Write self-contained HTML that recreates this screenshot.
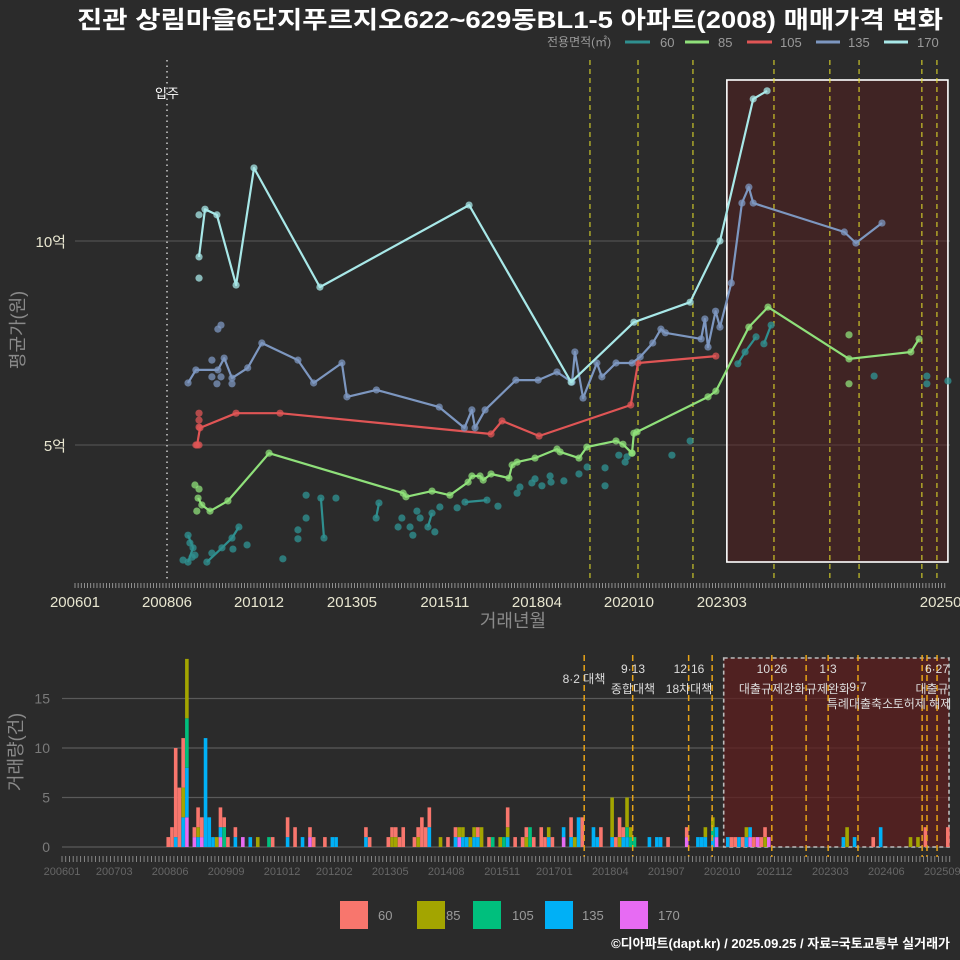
<!DOCTYPE html>
<html><head><meta charset="utf-8">
<style>
html,body{margin:0;padding:0;background:#2b2b2b;}
svg{display:block;font-family:"Liberation Sans","Noto Sans CJK KR",sans-serif;}
</style></head>
<body>
<svg id="chart" width="960" height="960" viewBox="0 0 960 960" xmlns="http://www.w3.org/2000/svg">
<rect x="0" y="0" width="960" height="960" fill="#2b2b2b"/>
<text x="510" y="28" text-anchor="middle" fill="#ffffff" font-size="24" font-weight="bold" textLength="866" lengthAdjust="spacingAndGlyphs">진관 상림마을6단지푸르지오622~629동BL1-5 아파트(2008) 매매가격 변화</text>
<g font-size="13" fill="#9a9a9a">
<text x="547" y="46" font-size="12">전용면적(㎡)</text>
<line x1="625" y1="42" x2="650" y2="42" stroke="#2f8f8f" stroke-width="3"/>
<text x="660" y="47">60</text>
<line x1="685" y1="42" x2="709" y2="42" stroke="#8fe07a" stroke-width="3"/>
<text x="718" y="47">85</text>
<line x1="747" y1="42" x2="772" y2="42" stroke="#e05555" stroke-width="3"/>
<text x="780" y="47">105</text>
<line x1="816" y1="42" x2="840" y2="42" stroke="#7d97c0" stroke-width="3"/>
<text x="848" y="47">135</text>
<line x1="884" y1="42" x2="908" y2="42" stroke="#a8e8e8" stroke-width="3"/>
<text x="917" y="47">170</text>
</g>
<g id="topg"></g>
<g id="botg"></g>
<g font-size="13" fill="#9a9a9a">
<rect x="340" y="901" width="28" height="28" fill="#f8766d"/><text x="378" y="920">60</text>
<rect x="417" y="901" width="28" height="28" fill="#a3a500"/><text x="446" y="920">85</text>
<rect x="473" y="901" width="28" height="28" fill="#00bf7d"/><text x="512" y="920">105</text>
<rect x="545" y="901" width="28" height="28" fill="#00b0f6"/><text x="582" y="920">135</text>
<rect x="620" y="901" width="28" height="28" fill="#e76bf3"/><text x="658" y="920">170</text>
</g>
<text x="950" y="948" text-anchor="end" fill="#ffffff" font-size="13" font-weight="bold">©디아파트(dapt.kr) / 2025.09.25 / 자료=국토교통부 실거래가</text>
</svg>
<script>
// ---------- top chart data (x: months since 2006-01, y: price in 억) ----------
const line170 = [[39.5,9.61],[41.4,10.78],[45.2,10.64],[51.3,8.92],[57,11.79],[78,8.87],[125.5,10.88],[158,6.54],[178,8.01],[195.9,8.5],[205.4,10.0],[216,13.48],[220.4,13.68]];
const dots170 = [[39.5,10.64],[39.5,9.09]];
const line135 = [[36,6.52],[38.5,6.84],[45.5,6.84],[47.5,7.13],[50,6.64],[55,6.89],[59.5,7.5],[71,7.08],[76,6.52],[85,7.01],[86.6,6.18],[96,6.35],[116,5.93],[124,5.42],[126.4,5.86],[127.4,5.42],[130.6,5.86],[140.4,6.59],[147.5,6.59],[153.5,6.79],[158.3,6.54],[159.2,7.28],[161.8,6.15],[166.2,7.01],[167.8,6.67],[172.3,7.01],[177.4,7.01],[180,7.16],[184,7.5],[186.6,7.84],[188,7.75],[199.4,7.6],[200.6,8.09],[201.6,7.4],[204,8.28],[205.4,7.89],[209,8.97],[212.4,10.93],[214.6,11.32],[216,10.93],[245,10.22],[248.7,9.95],[257,10.44]];
const dots135 = [[45.5,7.84],[46.5,7.94],[43.6,7.08],[43.6,6.67],[45.2,6.5],[50,6.5],[46.5,6.67]];
const line105 = [[38.9,5.0],[39.8,5.42],[51.3,5.78],[65.3,5.78],[132.5,5.27],[136,5.59],[147.8,5.22],[177,5.98],[179.3,7.01],[204.1,7.18]];
const dots105 = [[39.5,5.78],[39.5,5.61],[39.5,5.44],[38.5,5.0],[39.5,5.0]];
const line85 = [[39.2,3.7],[40.4,3.53],[43,3.38],[48.7,3.63],[61.8,4.8],[104.5,3.82],[105.4,3.73],[113.7,3.87],[119.4,3.77],[125.2,4.09],[126.4,4.24],[129,4.24],[130,4.14],[132.5,4.29],[138.2,4.19],[139.2,4.51],[140.8,4.58],[146.5,4.68],[153.5,4.9],[154.5,4.83],[160.5,4.68],[163,4.95],[172.3,5.1],[174.5,5.02],[177.4,4.8],[178,5.29],[179,5.32],[201.6,6.18],[204.1,6.32],[214.6,7.89],[220.7,8.38],[246.5,7.11],[266.2,7.28],[268.8,7.6]];
const dots85 = [[38.2,4.02],[39.5,3.92],[38.8,3.38],[246.5,7.7],[246.5,6.5],[177.4,4.8]];
const dots60 = [[36,2.79],[36.6,2.6],[37.6,2.48],[37.3,2.25],[34.4,2.18],[36,2.13],[38.2,2.3],[42,2.13],[43.6,2.35],[46.8,2.48],[50,2.72],[52.2,2.99],[54.8,2.55],[50.3,2.45],[66.2,2.21],[71,2.92],[71,2.7],[73.6,3.21],[73.6,3.77],[78.3,3.7],[79.3,2.72],[83.1,3.7],[96.8,3.58],[95.9,3.21],[104.1,3.21],[102.9,2.99],[106.7,2.99],[108.9,3.38],[109.9,3.21],[107.6,2.79],[112.4,2.99],[113.7,3.33],[116.2,3.48],[114.6,2.87],[121.7,3.46],[124.2,3.6],[131.2,3.65],[134.7,3.5],[140.8,3.82],[141.7,3.97],[145.5,4.07],[146.5,4.17],[148.7,4.0],[151.3,4.24],[151.6,4.09],[155.7,4.12],[160.5,4.29],[163.1,4.46],[168.8,4.44],[168.8,4.0],[173.2,4.75],[175.2,4.58],[175.8,4.71],[190.1,4.75],[195.9,5.1],[211.1,6.99],[213.4,7.28],[216.9,7.65],[219.4,7.48],[221.7,7.94],[254.5,6.69],[271.3,6.69],[271.3,6.5],[278,6.57]];
const segs60 = [[[36,2.79],[37.6,2.48],[36,2.13]],[[42,2.13],[46.8,2.48],[50,2.72],[52.2,2.99]],[[78.3,3.7],[79.3,2.72]],[[95.9,3.21],[96.8,3.58]],[[112.4,2.99],[113.7,3.33]],[[124.2,3.6],[131.2,3.65]],[[211.1,6.99],[213.4,7.28],[216.9,7.65]],[[219.4,7.48],[221.7,7.94]]];
const topYTicks = [5,10];
const topYLabels = ["5억","10억"];
const topXTicks = [0,29.3,58.6,88.2,117.8,147.1,176.4,206,277];
const topXLabels = ["200601","200806","201012","201305","201511","201804","202010","202303","202509"];
const topEvents = [164,179.3,196.8,222.6,240.4,249.7,269.7,274.5];
const topMoveIn = 29.3;
const topBox = [207.6,278];

// ---------- bottom chart data (x: months since 2006-01, y: count) ----------
const cnt170 = [[33,3],[35,1],[37,1],[42,1],[48,1],[66,1],[106,1],[134,1],[167,1],[175,1],[184,1],[186,1],[189,1]];
const cnt135 = [[30,1],[32,3],[33,5],[36,1],[38,11],[39,3],[40,1],[42,1],[46,1],[50,1],[60,1],[64,1],[72,1],[73,1],[81,1],[98,2],[105,1],[107,1],[108,1],[110,1],[111,1],[119,1],[130,1],[134,1],[136,1],[138,3],[142,2],[143,1],[147,1],[150,1],[151,1],[157,1],[159,1],[160,1],[170,1],[171,1],[172,1],[174,1],[175,1],[178,1],[181,1],[183,1],[184,1],[209,1],[212,1],[219,2]];
const cnt105 = [[33,5],[43,2],[55,1],[115,1],[118,1],[125,2],[151,1],[152,1],[153,1],[174,1]];
const cnt85 = [[32,3],[33,6],[36,1],[41,1],[52,1],[88,1],[89,1],[95,1],[101,1],[106,1],[107,1],[109,1],[110,1],[112,2],[117,1],[119,1],[124,1],[130,1],[137,1],[147,4],[149,1],[151,3],[152,1],[172,1],[174,1],[183,1],[188,1],[210,2],[227,1],[229,1]];
const cnt60 = [[28,1],[29,2],[30,9],[31,6],[32,5],[35,1],[36,2],[37,2],[42,2],[43,1],[44,1],[46,1],[56,1],[60,2],[62,2],[66,1],[67,1],[70,1],[81,1],[82,1],[87,1],[88,1],[89,1],[90,1],[91,2],[94,1],[95,1],[96,3],[97,2],[98,2],[103,1],[105,1],[111,1],[114,1],[119,2],[121,1],[123,1],[124,1],[126,1],[128,2],[129,1],[131,1],[136,2],[139,3],[144,2],[148,1],[149,2],[150,1],[162,1],[167,1],[179,1],[180,1],[182,1],[185,1],[187,1],[188,1],[217,1],[231,2],[237,2]];
const botYTicks = [0,5,10,15];
const botXTicks = [0,14,29,44,59,73,88,103,118,132,147,162,177,191,206,221,236];
const botXLabels = ["200601","200703","200806","200909","201012","201202","201305","201408","201511","201701","201804","201907","202010","202112","202303","202406","202509"];
const botEvents = [140,153,168,174.3,190.3,199.5,205.4,213.4,230.6,231.9,234.6];
const botBox = [177.4,237.8];

const NS = "http://www.w3.org/2000/svg";
function mk(tag, attrs, parent, text){
  const e = document.createElementNS(NS, tag);
  for (const k in attrs) e.setAttribute(k, attrs[k]);
  if (text !== undefined) e.textContent = text;
  parent.appendChild(e);
  return e;
}
const xT = m => 75 + m*3.14;
const yT = v => 649 - v*40.8;
const xB = m => 62 + m*3.73;
const yB = c => 847 - c*9.9;

const gTop = document.getElementById('topg');
const gBot = document.getElementById('botg');

let el;
for (let i=0;i<topYTicks.length;i++){
  el = mk('line',{x1:75,x2:950,y1:yT(topYTicks[i]),y2:yT(topYTicks[i]),stroke:'#5a5a5a','stroke-width':1},gTop);
  
  
  el = mk('text',{x:66,y:yT(topYTicks[i])+6,'text-anchor':'end',fill:'#e8e6d0','font-size':15},gTop,topYLabels[i]);
  
  
}
el = mk('rect',{x:xT(topBox[0]),y:80,width:xT(topBox[1])-xT(topBox[0]),height:482,fill:'#5a1c1c','fill-opacity':0.45,stroke:'#ffffff','stroke-width':1.6},gTop);


el = mk('line',{x1:xT(topMoveIn),x2:xT(topMoveIn),y1:60,y2:580,stroke:'#cccccc','stroke-width':1.5,'stroke-dasharray':'1.5 4'},gTop);


el = mk('text',{x:xT(topMoveIn),y:98,'text-anchor':'middle',fill:'#ffffff','font-size':13},gTop,'입주');


for (const m of topEvents){
  el = mk('line',{x1:xT(m),x2:xT(m),y1:60,y2:580,stroke:'#e6e02a','stroke-width':1.2,'stroke-dasharray':'5 4','stroke-opacity':0.85},gTop);
  
  
}
for (let m=0;m<=277;m+=1){
  el = mk('line',{x1:xT(m),x2:xT(m),y1:583,y2:588,stroke:'#aaaaaa','stroke-width':0.8},gTop);
  
  
}
for (let i=0;i<topXTicks.length;i++){
  el = mk('text',{x:xT(topXTicks[i]),y:607,'text-anchor':'middle',fill:'#e8e6d0','font-size':15},gTop,topXLabels[i]);
  
  
}
el = mk('text',{x:513,y:627,'text-anchor':'middle',fill:'#8a8a8a','font-size':18},gTop,'거래년월');


el = mk('text',{x:0,y:0,'text-anchor':'middle',fill:'#8a8a8a','font-size':18,transform:'translate(24,330) rotate(-90)'},gTop,'평균가(원)');



function pathOf(pts){ return pts.map((p,i)=>(i?'L':'M')+xT(p[0]).toFixed(1)+','+yT(p[1]).toFixed(1)).join(''); }
function drawSeries(line, dots, color, name){
  const g = mk('g',{},gTop);
  
  
  if (line.length){
    el = mk('path',{d:pathOf(line),fill:'none',stroke:color,'stroke-width':2.2,'stroke-linejoin':'round'},g);
    
    
  }
  for (const p of line.concat(dots)){
    el = mk('circle',{cx:xT(p[0]),cy:yT(p[1]),r:3.6,fill:color,'fill-opacity':0.75},g);
    
    
  }
}
const g60 = mk('g',{},gTop);


for (const s of segs60){
  el = mk('path',{d:pathOf(s),fill:'none',stroke:'#2f8f8f','stroke-width':2.2},g60);
  
  
}
for (const p of dots60){
  el = mk('circle',{cx:xT(p[0]),cy:yT(p[1]),r:3.6,fill:'#2f8f8f','fill-opacity':0.8},g60);
  
  
}
drawSeries(line85, dots85, '#8fe07a', '85');
drawSeries(line105, dots105, '#e05555', '105');
drawSeries(line135, dots135, '#7d97c0', '135');
drawSeries(line170, dots170, '#a8e8e8', '170');

// ---- bottom chart ----
for (const t of botYTicks){
  el = mk('line',{x1:62,x2:950,y1:yB(t),y2:yB(t),stroke:'#5a5a5a','stroke-width':1.2},gBot);
  
  
  el = mk('text',{x:50,y:yB(t)+5,'text-anchor':'end',fill:'#7a7a7a','font-size':14},gBot,String(t));
  
  
}
el = mk('rect',{x:xB(botBox[0]),y:658,width:xB(botBox[1])-xB(botBox[0]),height:189,fill:'#5e1f1f','fill-opacity':0.75,stroke:'#bbbbbb','stroke-width':1.6,'stroke-dasharray':'4 3'},gBot);


const stackOrder = [[cnt170,'#e76bf3','170'],[cnt135,'#00b0f6','135'],[cnt105,'#00bf7d','105'],[cnt85,'#a3a500','85'],[cnt60,'#f8766d','60']];
const base = {};
for (const [arr,color,name] of stackOrder){
  for (const [m,c] of arr){
    const b = base[m]||0;
    el = mk('rect',{x:xB(m),y:yB(b+c),width:3.6,height:yB(b)-yB(b+c),fill:color},gBot);
    
    
    base[m] = b+c;
  }
}
for (const m of botEvents){
  el = mk('line',{x1:xB(m),x2:xB(m),y1:655,y2:857,stroke:'#e8a317','stroke-width':1.5,'stroke-dasharray':'6 4'},gBot);
  
  
}
const evLabels = [["8·2 대책",584,683],["9·13",633,673],["종합대책",633,693],["12·16",689,673],["18차대책",689,693],["10·26",772,673],["대출규제강화",772,693],["1·3",828,673],["규제완화",828,693],["9·7",858,691],["특례대출축소",860,708],["토허제 해제",922,708],["6·27",937,673],["대출규",932,693]];
for (const [t,x,y] of evLabels){
  el = mk('text',{x:x,y:y,'text-anchor':'middle',fill:'#dddddd','font-size':12},gBot,t);
  
  
}
for (let m=0;m<=238;m+=1){
  el = mk('line',{x1:xB(m),x2:xB(m),y1:856,y2:862,stroke:'#9a9a9a','stroke-width':0.8},gBot);
  
  
}
for (let i=0;i<botXTicks.length;i++){
  el = mk('text',{x:xB(botXTicks[i]),y:875,'text-anchor':'middle',fill:'#666666','font-size':11},gBot,botXLabels[i]);
  
  
}
el = mk('text',{x:0,y:0,'text-anchor':'middle',fill:'#8a8a8a','font-size':18,transform:'translate(22,752) rotate(-90)'},gBot,'거래량(건)');


</script>
</body></html>
